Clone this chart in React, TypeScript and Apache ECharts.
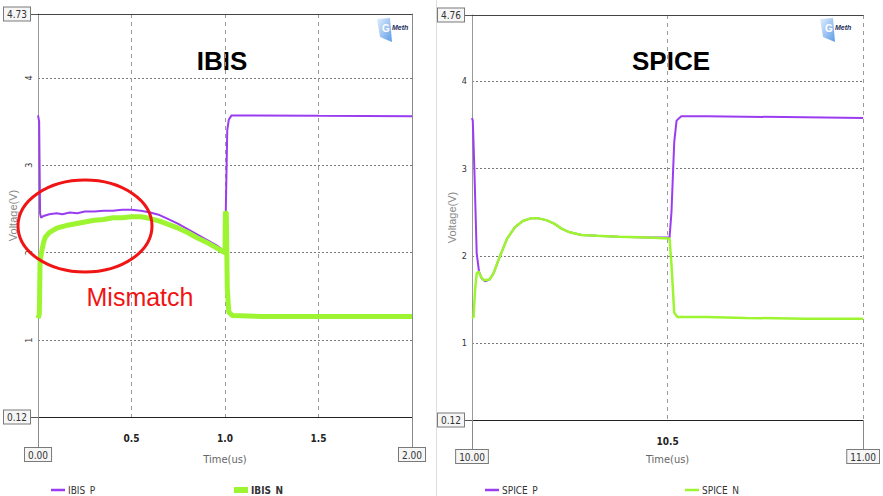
import React, { useEffect, useRef } from 'react';
import * as echarts from 'echarts';

// ---------- data ----------
const ibisP: [number, number][] = [
  [0, 3.57], [0.006, 3.5], [0.011, 2.45], [0.016, 2.4], [0.03, 2.42], [0.06, 2.44], [0.1, 2.45],
  [0.13, 2.44], [0.17, 2.46], [0.21, 2.45], [0.25, 2.47], [0.3, 2.47], [0.35, 2.48], [0.4, 2.48],
  [0.45, 2.49], [0.5, 2.49], [0.55, 2.48], [0.6, 2.46], [0.65, 2.43], [0.7, 2.38], [0.75, 2.33],
  [0.8, 2.27], [0.85, 2.21], [0.9, 2.15], [0.95, 2.09], [0.99, 2.03], [1.0, 2.0], [1.004, 2.46],
  [1.012, 3.4], [1.02, 3.52], [1.035, 3.57], [1.1, 3.57], [1.5, 3.565], [2.0, 3.56],
];
const ibisN: [number, number][] = [
  [0, 1.25], [0.007, 1.3], [0.011, 1.9], [0.02, 2.02], [0.03, 2.12], [0.04, 2.18], [0.06, 2.23],
  [0.1, 2.28], [0.15, 2.31], [0.2, 2.33], [0.25, 2.35], [0.3, 2.37], [0.35, 2.38], [0.4, 2.4],
  [0.45, 2.4], [0.5, 2.41], [0.55, 2.41], [0.6, 2.39], [0.65, 2.36], [0.7, 2.32], [0.75, 2.28],
  [0.8, 2.23], [0.85, 2.17], [0.9, 2.12], [0.95, 2.06], [0.99, 2.01], [1.0, 2.0], [1.002, 2.47],
  [1.007, 2.45], [1.012, 1.6], [1.02, 1.32], [1.04, 1.28], [1.2, 1.27], [1.6, 1.27], [2.0, 1.27],
];
const spiceP: [number, number][] = [
  [10.0, 3.58], [10.002, 3.55], [10.006, 3.0], [10.012, 2.03], [10.018, 1.82], [10.025, 1.74],
  [10.033, 1.71], [10.045, 1.73], [10.055, 1.8], [10.07, 1.98], [10.09, 2.2], [10.11, 2.33],
  [10.13, 2.4], [10.15, 2.43], [10.17, 2.43], [10.19, 2.41], [10.21, 2.37], [10.23, 2.31],
  [10.25, 2.27], [10.28, 2.24], [10.32, 2.23], [10.375, 2.22], [10.45, 2.21], [10.505, 2.21],
  [10.51, 2.5], [10.517, 3.3], [10.523, 3.55], [10.535, 3.6], [10.6, 3.6], [10.8, 3.59], [11.0, 3.58],
];
const spiceN: [number, number][] = [
  [10.0, 1.29], [10.004, 1.3], [10.008, 1.62], [10.012, 1.8], [10.017, 1.82], [10.023, 1.76],
  [10.03, 1.72], [10.045, 1.73], [10.055, 1.8], [10.07, 1.98], [10.09, 2.2], [10.11, 2.33],
  [10.13, 2.4], [10.15, 2.43], [10.17, 2.43], [10.19, 2.41], [10.21, 2.37], [10.23, 2.31],
  [10.25, 2.27], [10.28, 2.24], [10.32, 2.23], [10.375, 2.22], [10.45, 2.21], [10.505, 2.2],
  [10.51, 1.9], [10.517, 1.35], [10.525, 1.3], [10.6, 1.3], [10.7, 1.29], [10.85, 1.28], [11.0, 1.28],
];
const ibisXRange = [0, 2];
const spiceXRange = [10, 11];
const ibisXLabels = [0.5, 1.0, 1.5];
const spiceXLabels = [10.5];
const ibisYRange = [0.12, 4.73];
const spiceYRange = [0.12, 4.76];
const yLabels = [1, 2, 3, 4];
const titles = ['IBIS', 'SPICE'];
const seriesNames = ['IBIS_P', 'IBIS_N', 'SPICE_P', 'SPICE_N'];

// ---------- styles ----------
const PURPLE = '#9a3df0';
const GREEN = '#9df531';
const NARROW = "'DejaVu Sans Condensed', 'Liberation Sans Narrow', 'Arial Narrow', 'Liberation Sans', Arial, sans-serif";
const SANS = "'Liberation Sans', Arial, sans-serif";

const boxRich = {
  b: {
    fontFamily: NARROW, fontSize: 10, color: '#333', backgroundColor: '#f6f6f6',
    borderColor: '#7a7a7a', borderWidth: 1, padding: [2, 3, 1, 3],
  },
};

function panelAxes(
  gi: number, xr: number[], yr: number[], xLabels: number[], rotateY: number,
  yNameGap: number, xNameGap: number, solidRight: boolean, boxMargin: number,
) {
  const xs: any[] = [
    {
      gridIndex: gi, type: 'value', min: xr[0], max: xr[1], interval: 0.5, position: 'bottom',
      name: 'Time(us)', nameLocation: 'middle', nameGap: xNameGap,
      nameTextStyle: { fontFamily: NARROW, fontSize: 11, color: '#666' },
      axisLine: { show: true, onZero: false, lineStyle: { color: '#222', width: 1.2 } },
      axisTick: { show: false },
      axisLabel: {
        customValues: xLabels, margin: 16, fontFamily: NARROW, fontSize: 10, fontWeight: 'bold', color: '#222',
        formatter: (v: number) => v.toFixed(1),
      },
      splitLine: { show: true, lineStyle: { color: '#9a9a9a', type: [4, 4], width: 1 } },
    },
    {
      gridIndex: gi, type: 'value', min: xr[0], max: xr[1], interval: 0.5, position: 'bottom',
      axisLine: { show: false },
      axisTick: { show: true, customValues: xr, length: 31, lineStyle: { color: '#8a8a8a' } },
      axisLabel: {
        customValues: xr, margin: boxMargin, formatter: (v: number) => '{b|' + v.toFixed(2) + '}', rich: boxRich,
      },
      splitLine: { show: false },
    },
    {
      gridIndex: gi, type: 'value', min: xr[0], max: xr[1], position: 'top',
      axisLine: { show: true, onZero: false, lineStyle: { color: '#444', width: 1.2 } },
      axisTick: { show: false }, axisLabel: { show: false }, splitLine: { show: false },
    },
  ];
  const ys: any[] = [
    {
      gridIndex: gi, type: 'value', min: yr[0], max: yr[1], splitNumber: 5, position: 'left',
      name: 'Voltage(V)', nameLocation: 'middle', nameGap: yNameGap, nameRotate: 90,
      nameTextStyle: { fontFamily: SANS, fontSize: 11, color: '#888' },
      axisLine: { show: true, onZero: false, lineStyle: { color: '#9a9a9a' } },
      axisTick: { show: false },
      axisLabel: {
        customValues: yLabels, rotate: rotateY, margin: 5, fontFamily: NARROW, fontSize: 9, color: '#333',
      },
      splitLine: { show: true, lineStyle: { color: '#777', type: [2, 2], width: 1 } },
    },
    {
      gridIndex: gi, type: 'value', min: yr[0], max: yr[1], position: 'left',
      axisLine: { show: false },
      axisTick: { show: true, customValues: yr, length: 8, lineStyle: { color: '#555' } },
      axisLabel: {
        customValues: yr, margin: 8, formatter: (v: number) => '{b|' + v.toFixed(2) + '}', rich: boxRich,
      },
      splitLine: { show: false },
    },
  ];
  if (solidRight) {
    ys.push({
      gridIndex: gi, type: 'value', min: yr[0], max: yr[1], position: 'right',
      axisLine: { show: true, onZero: false, lineStyle: { color: '#8a8a8a' } },
      axisTick: { show: false }, axisLabel: { show: false }, splitLine: { show: false },
    });
  }
  return { xs, ys };
}

function logo(x: number, y: number) {
  return {
    type: 'group', x, y, silent: true,
    children: [
      {
        type: 'polygon',
        shape: { points: [[0, 1], [13, 0], [15, 24], [3, 19]] },
        style: {
          fill: new echarts.graphic.LinearGradient(0, 0, 1, 1, [
            { offset: 0, color: '#e4effc' }, { offset: 1, color: '#5d9be8' },
          ]),
        },
      },
      { type: 'text', x: 5, y: 5, style: { text: 'G', fontSize: 10, fontWeight: 'bold', fill: '#ffffff', fontFamily: SANS } },
      { type: 'text', x: 15, y: 6, style: { text: 'Meth', fontSize: 7, fontWeight: 'bold', fontStyle: 'italic', fill: '#1d2d5a', fontFamily: SANS } },
    ],
  };
}

function legendItem(name: string, left: number, icon: string, bold: boolean) {
  return {
    data: [{ name, icon }], left, top: 480, itemWidth: 14, itemHeight: 6, itemGap: 4,
    selectedMode: false,
    textStyle: { fontFamily: NARROW, fontSize: 10, color: '#333', fontWeight: bold ? 'bold' : 'normal', padding: [0, 0, 0, -2] },
  };
}

export default function App() {
  const ref = useRef<HTMLDivElement>(null);
  useEffect(() => {
    if (!ref.current) return;
    const chart = echarts.init(ref.current, undefined, { renderer: 'svg' });
    const L = panelAxes(0, ibisXRange, ibisYRange, ibisXLabels, 90, 20, 37, true, 31);
    const R = panelAxes(1, spiceXRange, spiceYRange, spiceXLabels, 0, 15, 34, false, 30);
    const lineIcon = 'path://M0,0h14v2.5h-14z';
    chart.setOption({
      animation: false,
      backgroundColor: '#ffffff',
      grid: [
        { left: 38, top: 14, width: 374, height: 403, show: false },
        { left: 472, top: 15, width: 403, height: 405, show: false },
      ],
      xAxis: [...L.xs, ...R.xs],
      yAxis: [...L.ys, ...R.ys],
      legend: [
        legendItem(seriesNames[0], 46, lineIcon, false),
        legendItem(seriesNames[1], 229, 'rect', true),
        legendItem(seriesNames[2], 480, lineIcon, false),
        legendItem(seriesNames[3], 680, lineIcon, false),
      ],
      series: [
        { name: seriesNames[0], type: 'line', xAxisIndex: 0, yAxisIndex: 0, data: ibisP, showSymbol: false, z: 3,
          lineStyle: { color: PURPLE, width: 2 }, itemStyle: { color: PURPLE } },
        { name: seriesNames[1], type: 'line', xAxisIndex: 0, yAxisIndex: 0, data: ibisN, showSymbol: false, z: 4,
          lineStyle: { color: GREEN, width: 5 }, itemStyle: { color: GREEN } },
        { name: seriesNames[2], type: 'line', xAxisIndex: 3, yAxisIndex: 3, data: spiceP, showSymbol: false, z: 3,
          lineStyle: { color: PURPLE, width: 2 }, itemStyle: { color: PURPLE } },
        { name: seriesNames[3], type: 'line', xAxisIndex: 3, yAxisIndex: 3, data: spiceN, showSymbol: false, z: 4,
          lineStyle: { color: GREEN, width: 2.5 }, itemStyle: { color: GREEN } },
      ],
      graphic: [
        { type: 'line', shape: { x1: 436.5, y1: 0, x2: 436.5, y2: 496 }, style: { stroke: '#dddddd', lineWidth: 1 }, silent: true },
        { type: 'text', x: 222, y: 61, style: { text: titles[0], fontSize: 26, fontWeight: 'bold', fontFamily: SANS, fill: '#000', textAlign: 'center', textVerticalAlign: 'middle' } },
        { type: 'text', x: 671, y: 61, style: { text: titles[1], fontSize: 26, fontWeight: 'bold', fontFamily: SANS, fill: '#000', textAlign: 'center', textVerticalAlign: 'middle' } },
        logo(377, 18),
        logo(820, 18),
        { type: 'ellipse', shape: { cx: 85, cy: 226, rx: 67, ry: 46 }, style: { fill: 'none', stroke: '#f01414', lineWidth: 3 }, z: 100 },
        { type: 'text', x: 140, y: 297, z: 100, style: { text: 'Mismatch', fontSize: 25, fontFamily: SANS, fill: '#f01414', textAlign: 'center', textVerticalAlign: 'middle' } },
      ],
    });
    return () => chart.dispose();
  }, []);
  return <div ref={ref} style={{ position: 'absolute', left: 0, top: 0, width: 883, height: 496 }} />;
}
